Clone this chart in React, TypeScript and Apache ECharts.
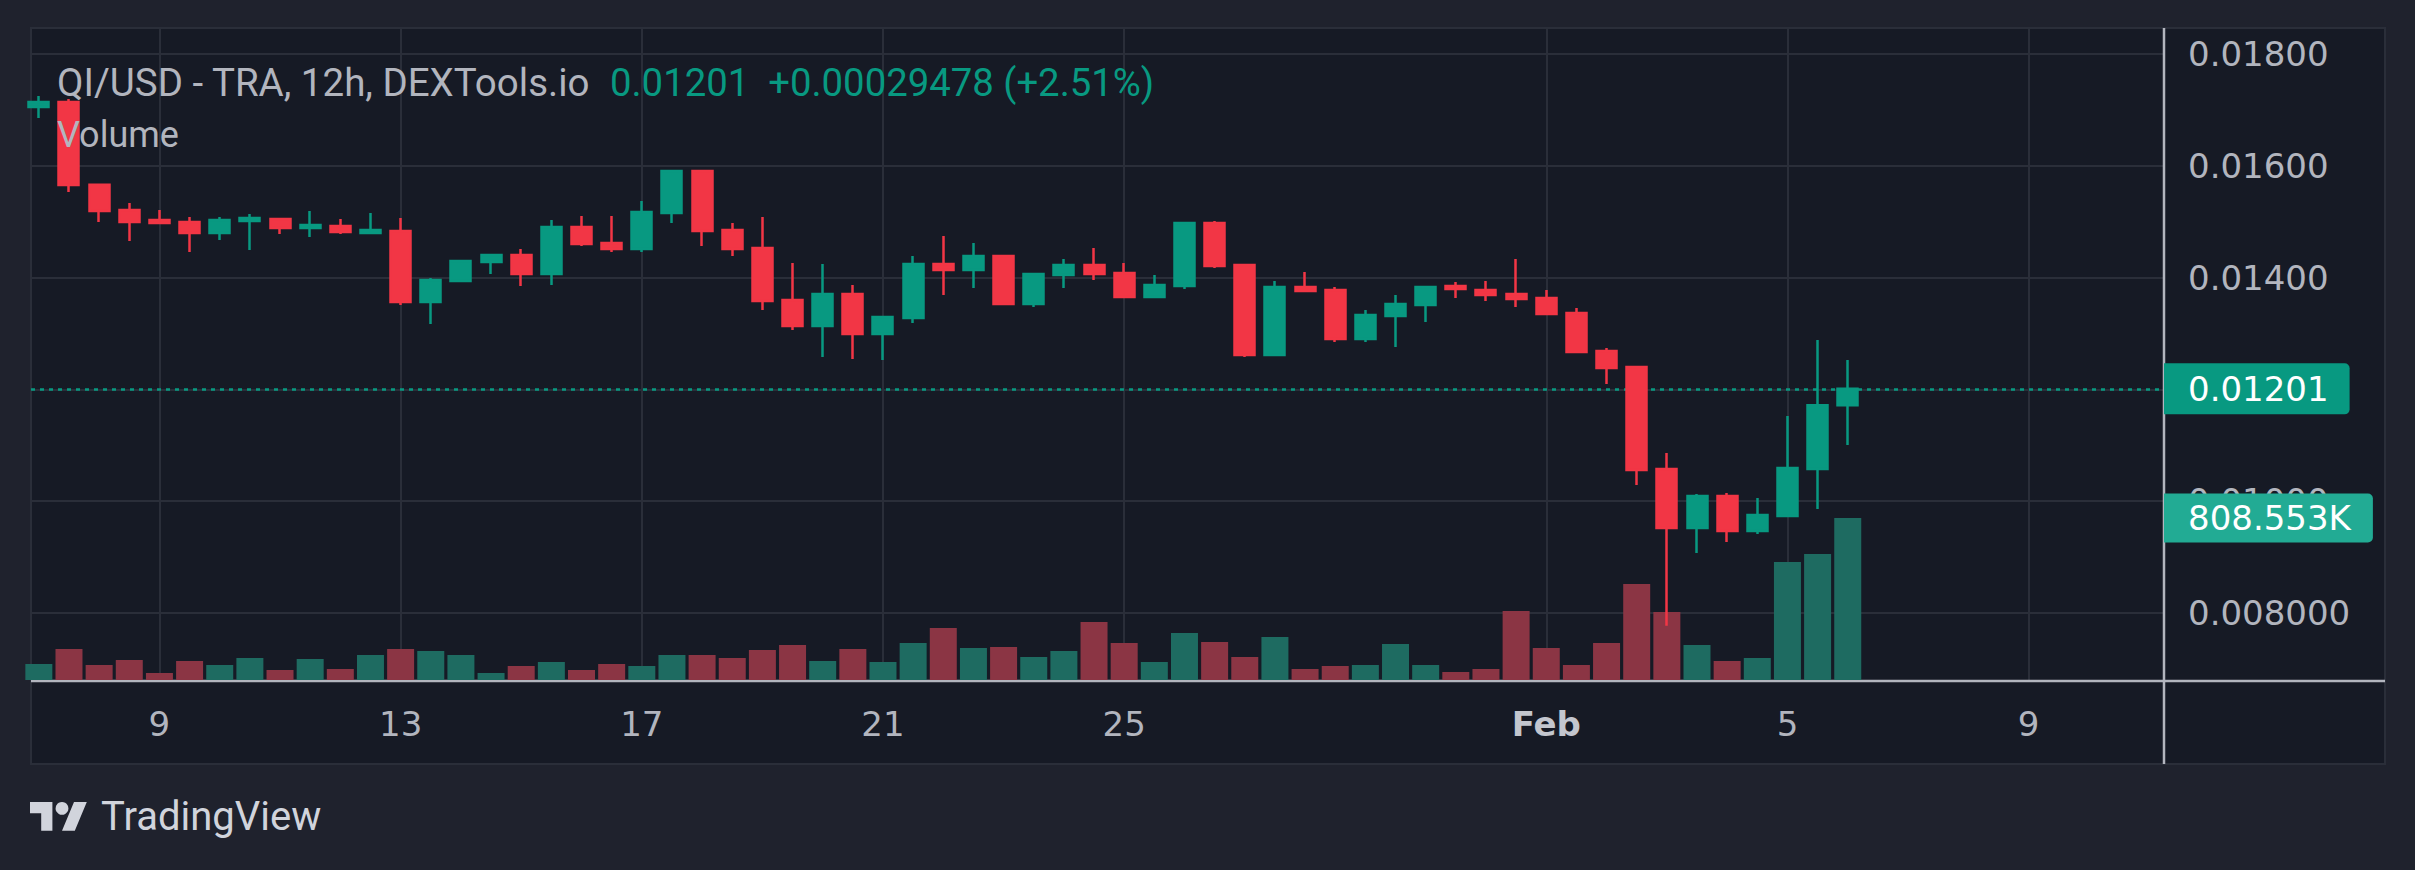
import React, { useEffect, useRef } from "react";
import * as echarts from "echarts";

// 12h candles, 7 Jan 00:00 ... 6 Feb 12:00 (array position = candle slot)
const opens = [
  0.017052, 0.017141, 0.01566, 0.015209, 0.01503, 0.014995, 0.014798, 0.015013, 0.015048, 0.014887,
  0.014923, 0.014798, 0.014834, 0.013564, 0.013939, 0.014279, 0.014404, 0.014064, 0.014905, 0.014619,
  0.014512, 0.015156, 0.015907, 0.014852, 0.01453, 0.013599, 0.013134, 0.013707, 0.012991, 0.013277,
  0.014243, 0.014136, 0.014386, 0.013528, 0.014046, 0.014225, 0.014082, 0.013653, 0.01385, 0.014977,
  0.014225, 0.012615, 0.013832, 0.013778, 0.012902, 0.013313, 0.01351, 0.01385, 0.013778, 0.013707,
  0.013635, 0.013367, 0.012687, 0.012401, 0.010576, 0.009521, 0.010093, 0.009467, 0.009735, 0.010576,
  0.011715,
];
const closes = [
  0.017141, 0.015657, 0.015191, 0.014995, 0.014977, 0.014798, 0.01503, 0.015066, 0.014887, 0.014941,
  0.014816, 0.014852, 0.013564, 0.013957, 0.014297, 0.014404, 0.014064, 0.014905, 0.014601, 0.014512,
  0.015174, 0.015907, 0.014834, 0.014512, 0.013582, 0.013134, 0.013707, 0.012991, 0.013295, 0.014243,
  0.014136, 0.014386, 0.013528, 0.014064, 0.014225, 0.014064, 0.013653, 0.013868, 0.014977, 0.014207,
  0.012615, 0.013832, 0.01376, 0.012902, 0.013331, 0.013528, 0.013832, 0.013796, 0.013689, 0.013617,
  0.013349, 0.012669, 0.012383, 0.010558, 0.009521, 0.010093, 0.009467, 0.009753, 0.010594, 0.011715,
  0.01201,
];
const lows = [
  0.016855, 0.015531, 0.014995, 0.014655, 0.014959, 0.014458, 0.014673, 0.014494, 0.01478, 0.014727,
  0.01478, 0.014798, 0.01351, 0.01317, 0.013921, 0.014064, 0.01385, 0.013868, 0.014565, 0.014458,
  0.014458, 0.014977, 0.014565, 0.014386, 0.01342, 0.013063, 0.01258, 0.012544, 0.012526, 0.013188,
  0.013689, 0.013814, 0.013528, 0.013474, 0.013814, 0.013957, 0.013635, 0.013653, 0.013796, 0.014172,
  0.01258, 0.012615, 0.013742, 0.012848, 0.012848, 0.012758, 0.013206, 0.013635, 0.013582, 0.013474,
  0.013331, 0.012669, 0.012097, 0.01029, 0.00777, 0.009073, 0.00927, 0.009413, 0.009717, 0.00986,
  0.011005,
];
const highs = [
  0.017249, 0.017195, 0.015674, 0.015335, 0.015209, 0.015084, 0.015084, 0.015138, 0.015048, 0.015191,
  0.015048, 0.015156, 0.015066, 0.013993, 0.014297, 0.014404, 0.014512, 0.01503, 0.015102, 0.015102,
  0.01537, 0.015907, 0.015925, 0.014977, 0.015084, 0.014261, 0.014243, 0.013868, 0.013295, 0.014386,
  0.014744, 0.014619, 0.014386, 0.014082, 0.014333, 0.01453, 0.014261, 0.014046, 0.014977, 0.015013,
  0.014225, 0.013939, 0.0141, 0.013832, 0.01342, 0.013689, 0.01385, 0.013921, 0.013939, 0.014333,
  0.013778, 0.013456, 0.012741, 0.012401, 0.010862, 0.010129, 0.010147, 0.010057, 0.011524, 0.012884,
  0.012526,
];
const volumes = [
  79900, 154700, 74900, 99800, 34900, 94800, 74900, 109800, 49900, 104800,
  54900, 124800, 154700, 144700, 124800, 34900, 69900, 89800, 49900, 79900,
  69900, 124800, 124800, 109800, 149700, 174700, 94800, 154700, 89800, 184700,
  259500, 159700, 164700, 114800, 144700, 289500, 184700, 89800, 234600, 189700,
  114800, 214600, 54900, 69900, 74900, 179700, 74900, 39900, 54900, 344400,
  159700, 74900, 184700, 479100, 339400, 174700, 94800, 109800, 589000, 628900,
  808553,
];

// x-axis ticks (candle slot) and their labels
const tickSlots = [4, 12, 20, 28, 36, 50, 58, 66];
const tickLabels = ["9", "13", "17", "21", "25", "Feb", "5", "9"];

// price axis ticks
const priceMin = 0.008;
const priceMax = 0.018;
const priceStep = 0.002;

const titleText = "QI/USD - TRA, 12h, DEXTools.io";
const quoteText = "0.01201  +0.00029478 (+2.51%)";
const volumeTitle = "Volume";

const UP = "#089981";
const DOWN = "#f23645";
const VOL_UP = "#1e6b61";
const VOL_DOWN = "#8b3544";
const TXT = "#b2b5be";
const GRID = "#2a2e39";
const AXIS_FONT = "DejaVu Sans";

const TV_LOGO = "M14 22H7V11H0V4h14v18zM28 22h-8l7.5-18h8L28 22z";

export default function App() {
  const ref = useRef<HTMLDivElement | null>(null);

  useEffect(() => {
    if (!ref.current) return;
    try {
      echarts.graphic.registerShape("tvlogo", echarts.graphic.extendPath(TV_LOGO, {}));
    } catch (e) {}
    const chart = echarts.init(ref.current, null, { renderer: "svg" });

    const xMin = -0.26;
    const xMax = 70.49;
    const last = closes.length - 1;

    const candleData = opens.map((o, i) => [i, o, closes[i], lows[i], highs[i]]);
    const volData = volumes.map((v, i) => ({
      value: [i, v],
      itemStyle: { color: closes[i] >= opens[i] ? VOL_UP : VOL_DOWN },
    }));

    const option: any = {
      animation: false,
      backgroundColor: "#1f222d",
      grid: [
        { left: 31, top: 54, width: 2133, height: 559 },
        { left: 31, top: 28, width: 2133, height: 652 },
      ],
      xAxis: [
        { type: "value", gridIndex: 0, min: xMin, max: xMax, show: false },
        {
          type: "value",
          gridIndex: 1,
          min: xMin,
          max: xMax,
          axisLine: { show: false },
          axisTick: { show: false, customValues: tickSlots },
          axisLabel: {
            customValues: tickSlots,
            margin: 27,
            color: TXT,
            fontSize: 34,
            fontFamily: AXIS_FONT,
            formatter: (v: number) => {
              const k = tickSlots.indexOf(Math.round(v));
              const t = k >= 0 ? tickLabels[k] : "";
              return t === "Feb" ? "{b|Feb}" : t;
            },
            rich: {
              b: { fontWeight: "bold", color: "#c3c6ce", fontSize: 34, fontFamily: AXIS_FONT },
            },
          },
          splitLine: { show: true, lineStyle: { color: GRID, width: 2 } },
        },
      ],
      yAxis: [
        {
          type: "value",
          gridIndex: 0,
          position: "right",
          min: priceMin,
          max: priceMax,
          interval: priceStep,
          axisLine: { show: false },
          axisTick: { show: false },
          axisLabel: {
            margin: 24,
            color: TXT,
            fontSize: 34,
            fontFamily: AXIS_FONT,
            formatter: (v: number) => (v < 0.0095 ? v.toFixed(6) : v.toFixed(5)),
          },
          splitLine: { show: true, lineStyle: { color: GRID, width: 2 } },
        },
        { type: "value", gridIndex: 1, min: 0, max: 3254200, show: false },
      ],
      series: [
        {
          type: "bar",
          xAxisIndex: 1,
          yAxisIndex: 1,
          barWidth: 27,
          z: 2,
          data: volData,
          markLine: {
            silent: true,
            precision: 0,
            symbol: ["none", "none"],
            lineStyle: { color: "rgba(0,0,0,0)", width: 0 },
            data: [{ yAxis: volumes[last] }],
            label: {
              show: true,
              position: "end",
              distance: 0,
              formatter: (volumes[last] / 1000).toFixed(3) + "K",
              backgroundColor: "#22ab94",
              color: "#ffffff",
              fontSize: 34,
              lineHeight: 34,
              fontFamily: AXIS_FONT,
              padding: [8, 22, 7, 24],
              borderRadius: [0, 5, 5, 0],
            },
          },
        },
        {
          type: "candlestick",
          xAxisIndex: 0,
          yAxisIndex: 0,
          data: candleData,
          encode: { x: 0, y: [1, 2, 3, 4] },
          barWidth: 20.5,
          clip: false,
          z: 5,
          itemStyle: {
            color: UP,
            color0: DOWN,
            borderColor: UP,
            borderColor0: DOWN,
            borderWidth: 2.5,
          },
          markLine: {
            silent: true,
            precision: 8,
            symbol: ["none", "none"],
            data: [{ yAxis: closes[last] }],
            lineStyle: { color: UP, type: [4, 5], width: 2.5 },
            label: {
              show: true,
              position: "end",
              distance: 0,
              formatter: closes[last].toFixed(5),
              backgroundColor: UP,
              color: "#ffffff",
              fontSize: 34,
              lineHeight: 34,
              fontFamily: AXIS_FONT,
              padding: [9, 21, 8, 24],
              borderRadius: [0, 5, 5, 0],
            },
          },
        },
      ],
      graphic: [
        {
          type: "rect",
          z: -10,
          shape: { x: 31, y: 28, width: 2354, height: 736 },
          style: { fill: "#161a25", stroke: GRID, lineWidth: 2 },
        },
        {
          type: "line",
          z: 1,
          shape: { x1: 2164, y1: 28, x2: 2164, y2: 764 },
          style: { stroke: "#b2b5be", lineWidth: 2.5 },
        },
        {
          type: "line",
          z: 1,
          shape: { x1: 31, y1: 681, x2: 2385, y2: 681 },
          style: { stroke: "#b2b5be", lineWidth: 2.5 },
        },
        {
          type: "text",
          z: 20,
          x: 57,
          y: 82,
          style: { text: titleText, fill: TXT, font: "38.5px Roboto", verticalAlign: "middle" },
        },
        {
          type: "text",
          z: 20,
          x: 610,
          y: 82,
          style: { text: quoteText, fill: UP, font: "38.3px Roboto", verticalAlign: "middle" },
        },
        {
          type: "text",
          z: 20,
          x: 57,
          y: 135,
          style: { text: volumeTitle, fill: TXT, font: "36px Roboto", verticalAlign: "middle" },
        },
        {
          type: "tvlogo",
          z: 20,
          x: 30,
          y: 795.6,
          scaleX: 1.6,
          scaleY: 1.6,
          style: { fill: "#d1d4dc" },
        },
        {
          type: "circle",
          z: 20,
          shape: { cx: 62, cy: 808.4, r: 6.4 },
          style: { fill: "#d1d4dc" },
        },
        {
          type: "text",
          z: 20,
          x: 101,
          y: 816,
          style: { text: "TradingView", fill: "#d1d4dc", font: "40px Roboto", verticalAlign: "middle" },
        },
      ],
    };

    chart.setOption(option);
    return () => chart.dispose();
  }, []);

  return (
    <div
      ref={ref}
      style={{ position: "fixed", left: 0, top: 0, width: 2415, height: 870 }}
    />
  );
}
